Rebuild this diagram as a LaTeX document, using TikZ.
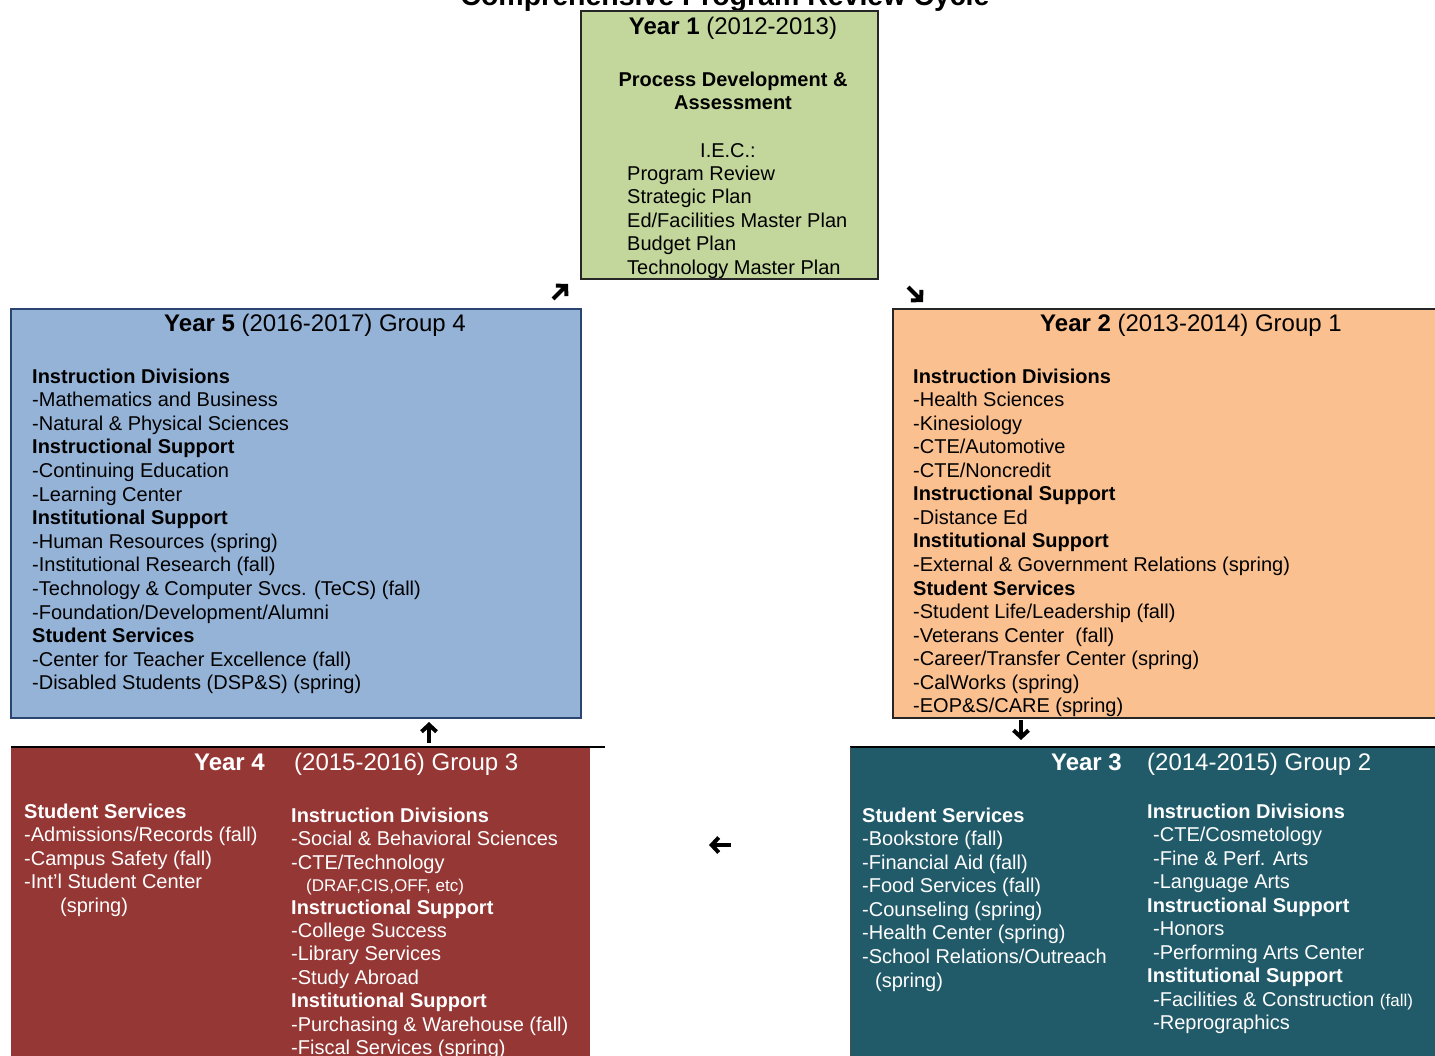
\documentclass[tikz,border=0pt]{standalone}
\usepackage{fontspec}
\setmainfont{Liberation Sans}
\usetikzlibrary{arrows.meta}
\definecolor{cgreen}{HTML}{C3D69B}
\definecolor{cblue}{HTML}{95B3D7}
\definecolor{corange}{HTML}{FAC090}
\definecolor{cred}{HTML}{953735}
\definecolor{cteal}{HTML}{215A69}
\definecolor{cedge}{HTML}{262626}
\definecolor{cbedge}{HTML}{2A4670}
\begin{document}
\begin{tikzpicture}[x=1pt,y=-1pt,
  txt/.style={anchor=base west,inner sep=0pt,font=\fontsize{20}{20}\selectfont},
  txts/.style={anchor=base west,inner sep=0pt,font=\fontsize{17}{17}\selectfont},
  ttl/.style={anchor=base,inner sep=0pt,font=\fontsize{24}{24}\selectfont},
  box/.style={draw=cedge,line width=1.6pt},
  arr/.style={line width=4pt,-{Straight Barb[length=7pt,width=15pt,line width=4pt]}}]
\useasboundingbox (0,0) rectangle (1435,1055);
\fill[white] (0,0) rectangle (1435,1055);
% title (cut at top)
\node[ttl,font=\fontsize{28.5}{28.5}\selectfont\bfseries] (title) at (725,5) {Comprehensive Program Review Cycle};
% boxes
\draw[box,fill=cgreen] (581,11) rectangle (878,279);
\draw[box,draw=cbedge,fill=cblue] (11,309) rectangle (581,718);
\draw[box,fill=corange] (893,309) rectangle (1450,718);
\fill[cred] (11,747) rectangle (590,1070);
\fill[cteal] (850,747) rectangle (1450,1070);
\draw[line width=1.6pt,black] (11,747) -- (605,747);
\draw[line width=1.6pt,black] (850,747) -- (1450,747);
\draw[line width=1pt,black!70] (850,747) -- (850,1070);
% Year 1
\node[ttl] (y1t) at (733,34) {\textbf{Year 1} (2012-2013)};
\node[ttl,font=\fontsize{20}{20}\selectfont\bfseries] (y1h1) at (733,86) {Process Development \&};
\node[ttl,font=\fontsize{20}{20}\selectfont\bfseries] (y1h2) at (733,109) {Assessment};
\node[ttl,font=\fontsize{20}{20}\selectfont] (y1iec) at (728,157) {I.E.C.:};
\foreach \s [count=\i from 0] in {Program Review,Strategic Plan,Ed/Facilities Master Plan,Budget Plan,Technology Master Plan}
  \node[txt] (y1l\i) at (627,180+23.5*\i) {\s};
% Year 5
\node[ttl] (y5t) at (315,331) {\textbf{Year 5} (2016-2017) Group 4};
\foreach \s [count=\i from 0] in {{\bfseries Instruction Divisions},-Mathematics and Business,-Natural \& Physical Sciences,{\bfseries Instructional Support},-Continuing Education,-Learning Center,{\bfseries Institutional Support},-Human Resources (spring),-Institutional Research (fall),-Technology \& Computer Svcs. (TeCS) (fall),-Foundation/Development/Alumni,{\bfseries Student Services},-Center for Teacher Excellence (fall),-Disabled Students (DSP\&S) (spring)}
  \node[txt] (y5l\i) at (32,383+23.6*\i) {\s};
% Year 2
\node[ttl] (y2t) at (1191,331) {\textbf{Year 2} (2013-2014) Group 1};
\foreach \s [count=\i from 0] in {{\bfseries Instruction Divisions},-Health Sciences,-Kinesiology,-CTE/Automotive,-CTE/Noncredit,{\bfseries Instructional Support},-Distance Ed,{\bfseries Institutional Support},-External \& Government Relations (spring),{\bfseries Student Services},-Student Life/Leadership (fall),-Veterans Center\ \ (fall),-Career/Transfer Center (spring),-CalWorks (spring),-EOP\&S/CARE (spring)}
  \node[txt] (y2l\i) at (913,383+23.57*\i) {\s};
% Year 4
\node[ttl,anchor=base east,text=white,font=\fontsize{24}{24}\selectfont\bfseries] (y4a) at (265,770) {Year 4};
\node[ttl,anchor=base west,text=white] (y4b) at (294,770) {(2015-2016) Group 3};
\foreach \s [count=\i from 0] in {{\bfseries Student Services},-Admissions/Records (fall),-Campus Safety (fall),-Int’l Student Center}
  \node[txt,text=white] (y4l\i) at (24,818+23.5*\i) {\s};
\node[txt,text=white] (y4l4) at (60,912) {(spring)};
\foreach \s [count=\i from 0] in {{\bfseries Instruction Divisions},-Social \& Behavioral Sciences,-CTE/Technology}
  \node[txt,text=white] (y4r\i) at (291,822+23.5*\i) {\s};
\node[txts,text=white] (y4r3) at (306,891) {(DRAF,CIS,OFF, etc)};
\foreach \s [count=\i from 0] in {{\bfseries Instructional Support},-College Success,-Library Services,-Study Abroad,{\bfseries Institutional Support},-Purchasing \& Warehouse (fall),-Fiscal Services (spring)}
  \node[txt,text=white] (y4s\i) at (291,914+23.45*\i) {\s};
% Year 3
\node[ttl,anchor=base east,text=white,font=\fontsize{24}{24}\selectfont\bfseries] (y3a) at (1122,770) {Year 3};
\node[ttl,anchor=base west,text=white] (y3b) at (1147,770) {(2014-2015) Group 2};
\foreach \s [count=\i from 0] in {{\bfseries Student Services},-Bookstore (fall),-Financial Aid (fall),-Food Services (fall),-Counseling (spring),-Health Center (spring),-School Relations/Outreach}
  \node[txt,text=white] (y3l\i) at (862,822+23.5*\i) {\s};
\node[txt,text=white] (y3l7) at (875,987) {(spring)};
\node[txt,text=white] (y3r0) at (1147,818) {\bfseries Instruction Divisions};
\foreach \s [count=\i from 1] in {-CTE/Cosmetology,-Fine \& Perf. Arts,-Language Arts}
  \node[txt,text=white] (y3r\i) at (1153,818+23.5*\i) {\s};
\node[txt,text=white] (y3r4) at (1147,912) {\bfseries Instructional Support};
\node[txt,text=white] (y3r5) at (1153,935) {-Honors};
\node[txt,text=white] (y3r6) at (1153,959) {-Performing Arts Center};
\node[txt,text=white] (y3r7) at (1147,982) {\bfseries Institutional Support};
\node[txt,text=white] (y3r8) at (1153,1006) {-Facilities \& Construction {\fontsize{17}{17}\selectfont(fall)}};
\node[txt,text=white] (y3r9) at (1153,1029) {-Reprographics};
% arrows
\coordinate (a1s) at (553,299); \coordinate (a1e) at (568,284);
\coordinate (a2s) at (908,287); \coordinate (a2e) at (923,302);
\coordinate (a3s) at (1021,720); \coordinate (a3e) at (1021,740);
\coordinate (a4s) at (731,845); \coordinate (a4e) at (709,845);
\coordinate (a5s) at (429,743); \coordinate (a5e) at (429,722);
\draw[arr] (a1s) -- (a1e);
\draw[arr] (a2s) -- (a2e);
\draw[arr] (a3s) -- (a3e);
\draw[arr] (a4s) -- (a4e);
\draw[arr] (a5s) -- (a5e);
\end{tikzpicture}
\end{document}
